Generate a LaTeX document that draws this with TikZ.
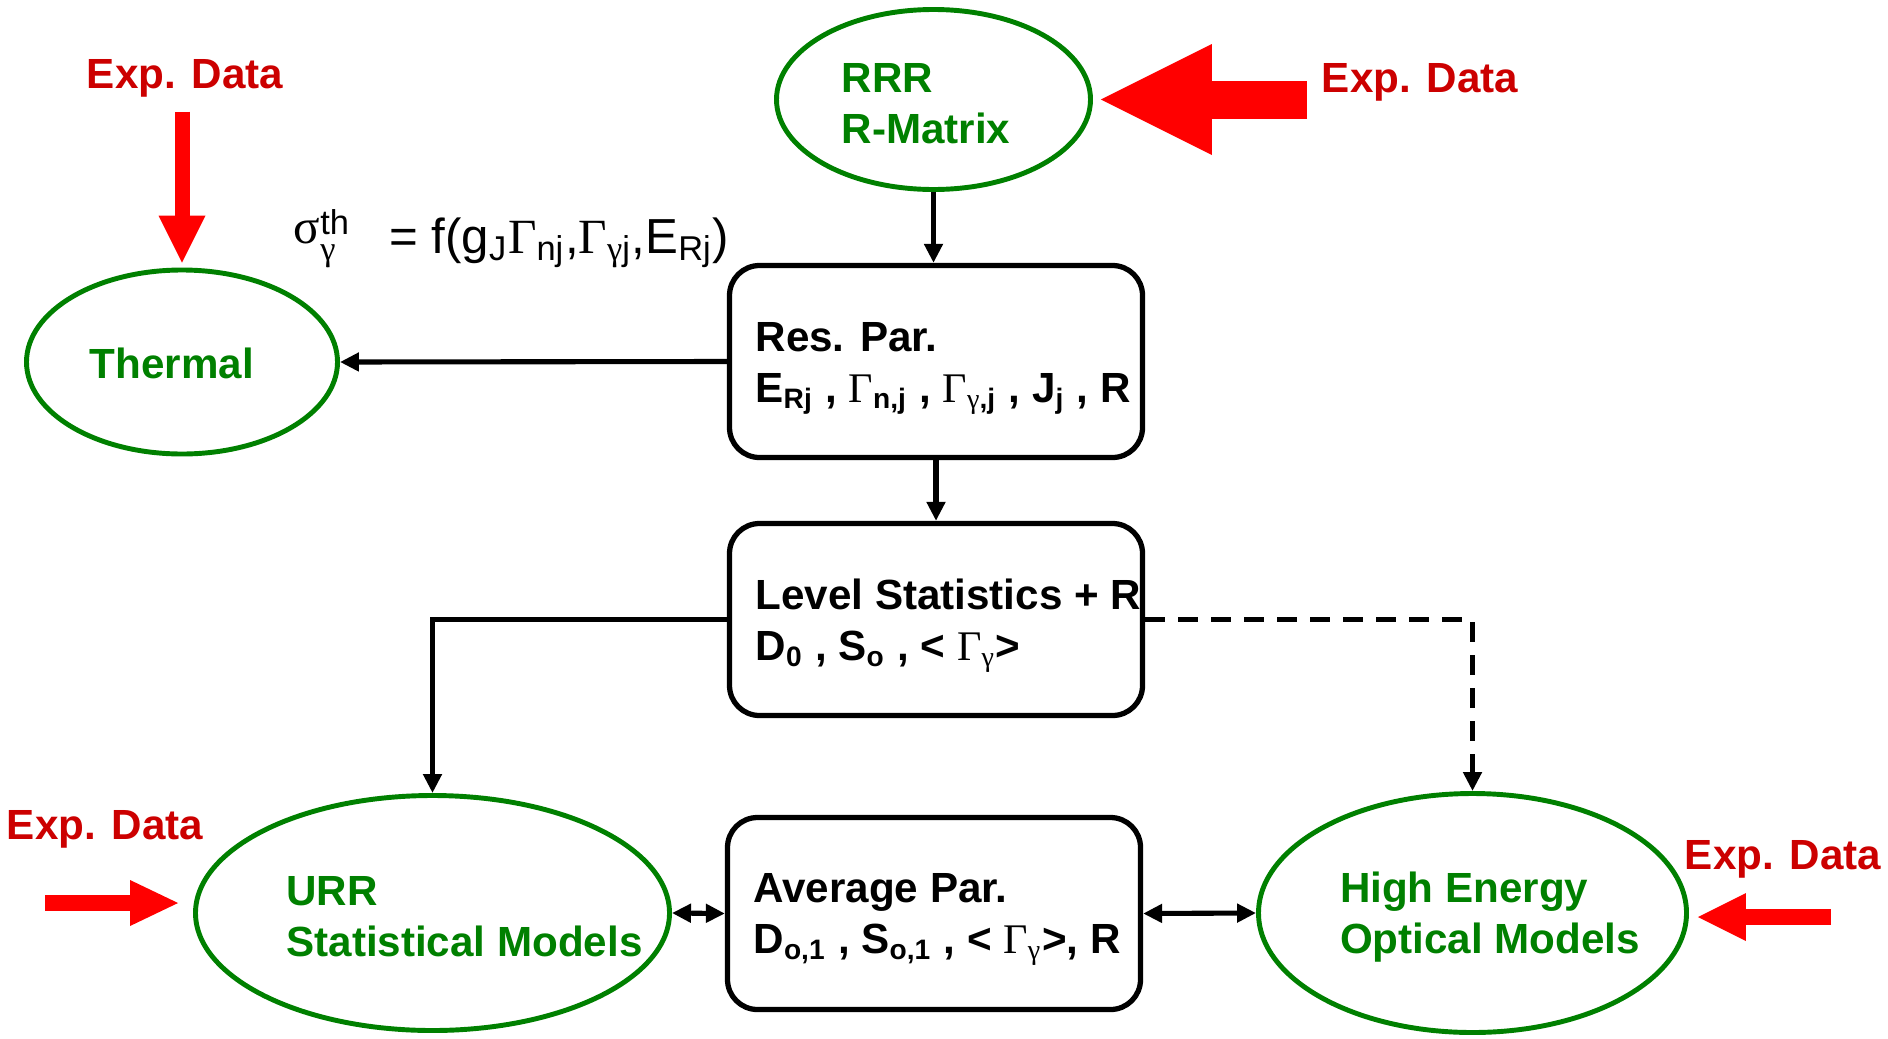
\documentclass[12pt,tikz,border=0pt]{standalone}
\usepackage{fontspec}
\setmainfont{Liberation Sans}
\newfontfamily\greek{Liberation Serif}
\usetikzlibrary{arrows.meta,shapes.geometric}
\definecolor{modelgreen}{RGB}{0,128,0}
\definecolor{datared}{RGB}{204,0,0}
\newcommand{\grG}{{\greek\mdseries Γ}}
\newcommand{\gry}{{\greek\mdseries γ}}
\newcommand{\grs}{{\greek\mdseries σ}}

\begin{document}
\begin{tikzpicture}[
  model/.style={draw=modelgreen, line width=1.4pt, ellipse, inner sep=0pt},
  modeltext/.style={text=modelgreen, font=\bfseries, align=left},
  parbox/.style={draw, line width=1.5pt, rounded corners=0.3cm, minimum width=4.13cm, minimum height=1.92cm},
  partext/.style={font=\bfseries, align=left, anchor=west, inner sep=0pt},
  expdata/.style={text=datared, font=\bfseries, anchor=base},
  feed/.style={red, line width=#1},
  link/.style={line width=1.45pt, -{Triangle[length=0.19cm,width=0.18cm]}},
  both/.style={line width=1.45pt, {Triangle[length=0.19cm,width=0.18cm]}-{Triangle[length=0.19cm,width=0.18cm]}}
]
\useasboundingbox (0,0) rectangle (18.88,10.38);

% models
\node[model, minimum width=3.11cm, minimum height=1.84cm] (thermal) at (1.82,6.76) {};
\node[model, minimum width=3.14cm, minimum height=1.80cm] (rrr) at (9.335,9.385) {};
\node[model, minimum width=4.74cm, minimum height=2.35cm] (urr) at (4.325,1.25) {};
\node[model, minimum width=4.28cm, minimum height=2.39cm] (hi) at (14.725,1.25) {};
\node[modeltext] (thermaltxt) at (1.72,6.75) {Thermal};
\node[modeltext] (rrrtxt) at (9.26,9.34) {RRR\\R-Matrix};
\node[modeltext] (urrtxt) at (4.645,1.21) {URR\\Statistical Models};
\node[modeltext] (hitxt) at (14.90,1.21) {High Energy\\Optical Models};

% parameter boxes
\node[parbox] (res) at (9.36,6.765) {};
\node[parbox] (level) at (9.36,4.185) {};
\node[parbox] (avg) at (9.34,1.245) {};
\node[partext] (restxt) at ([xshift=0.28cm,yshift=-0.07cm]res.west)
  {Res. Par.\\E\textsubscript{Rj} , \grG\textsubscript{n,j} , \grG\textsubscript{\gry,j} , J\textsubscript{j} , R};
\node[partext] (leveltxt) at ([xshift=0.28cm,yshift=-0.06cm]level.west)
  {Level Statistics + R\\D\textsubscript{0} , S\textsubscript{o} , < \grG\textsubscript{\gry}>};
\node[partext] (avgtxt) at ([xshift=0.28cm,yshift=-0.06cm]avg.west)
  {Average Par.\\D\textsubscript{o,1} , S\textsubscript{o,1} , < \grG\textsubscript{\gry}>, R};

\node[anchor=base west, font=\mdseries\fontsize{14}{16}\selectfont] (sigma) at (2.79,7.85)
  {\raisebox{0.2em}{\grs}\rlap{\textsuperscript{th}}\textsubscript{\gry}\hspace{0.52cm}= f(g\textsubscript{J}\grG\textsubscript{nj},\grG\textsubscript{\gry j},E\textsubscript{Rj})};

% experimental data
\node[expdata] (dataA) at (1.85,9.50) {Exp. Data};
\node[expdata] (dataB) at (14.20,9.46) {Exp. Data};
\node[expdata] (dataC) at (1.05,1.99) {Exp. Data};
\node[expdata] (dataD) at (17.83,1.69) {Exp. Data};
\coordinate (feedC) at (0.45,1.35);
\coordinate (feedD) at (18.31,1.21);

\draw[feed=0.15cm, -{Triangle[length=0.47cm,width=0.47cm,line width=0pt]}, shorten >=0.05cm]
  (thermal.north |- dataA.south) -- (thermal.north);
\draw[feed=0.38cm, -{Triangle[length=1.11cm,width=1.11cm,line width=0pt]}, shorten >=0.08cm]
  (dataB.west |- rrr.east) -- (rrr.east);
\draw[feed=0.16cm, -{Triangle[length=0.48cm,width=0.46cm,line width=0pt]}, shorten >=0.15cm]
  (feedC) -- (feedC -| urr.west);
\draw[feed=0.16cm, -{Triangle[length=0.48cm,width=0.48cm,line width=0pt]}, shorten >=0.09cm]
  (feedD) -- (feedD -| hi.east);

% flow
\draw[link] (rrr.south) -- (rrr.south |- res.north);
\draw[link] (res.west) -- (thermal.east);
\draw[link] (res.south) -- (level.north);
\draw[link] (level.west) -| (urr.north);
\draw[link, dash pattern=on 0.2cm off 0.13cm] (level.east) -| (hi.north);
\draw[both] (urr.east) -- (avg.west);
\draw[both] (avg.east) -- (hi.west);
\end{tikzpicture}
\end{document}
